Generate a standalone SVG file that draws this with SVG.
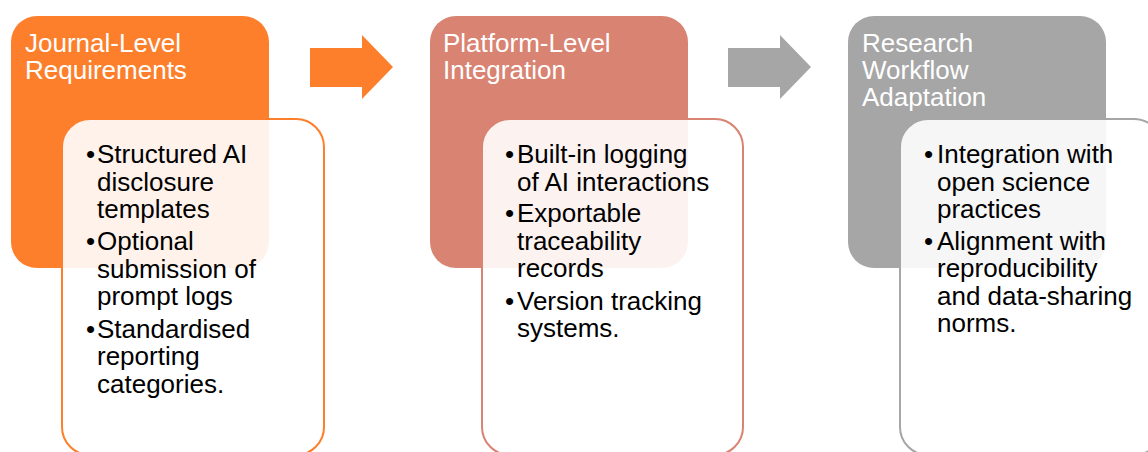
<svg xmlns="http://www.w3.org/2000/svg" width="1148" height="452" viewBox="0 0 1148 452">
<style>
.title{font-family:"Liberation Sans",Arial,sans-serif;font-size:26px;fill:#ffffff}
.body{font-family:"Liberation Sans",Arial,sans-serif;font-size:26px;fill:#000000}
.card{fill:#ffffff;fill-opacity:0.9;stroke-width:2}
</style>
<rect width="1148" height="452" fill="#ffffff"/>
<g id="connectors">
<path d="M310,48 H362 V35 L393,67 L362,99 V87 H310 Z" fill="#FD7F2B"/>
<path d="M728,48 H780 V35 L811,67 L780,99 V87 H728 Z" fill="#A6A6A6"/>
</g>
<g id="journal">
<rect x="11" y="16" width="258" height="252" rx="26" fill="#FD7F2B"/>
<text class="title" x="25" y="52">Journal-Level<tspan x="25" dy="27">Requirements</tspan></text>
<rect class="card" x="62" y="119" width="262" height="336" rx="28" stroke="#FD7F2B"/>
<text class="body" x="86" y="163">•</text>
<text class="body" x="97" y="163">Structured AI<tspan x="97" dy="28">disclosure</tspan><tspan x="97" dy="27">templates</tspan></text>
<text class="body" x="86" y="250">•</text>
<text class="body" x="97" y="250">Optional<tspan x="97" dy="28">submission of</tspan><tspan x="97" dy="27">prompt logs</tspan></text>
<text class="body" x="86" y="338">•</text>
<text class="body" x="97" y="338">Standardised<tspan x="97" dy="27">reporting</tspan><tspan x="97" dy="28">categories.</tspan></text>
</g>
<g id="platform">
<rect x="430" y="16" width="258" height="252" rx="26" fill="#D98372"/>
<text class="title" x="443" y="52">Platform-Level<tspan x="443" dy="27">Integration</tspan></text>
<rect class="card" x="482" y="119" width="261" height="336" rx="28" stroke="#D98372"/>
<text class="body" x="505" y="163">•</text>
<text class="body" x="517" y="163">Built-in logging<tspan x="517" dy="28">of AI interactions</tspan></text>
<text class="body" x="505" y="222">•</text>
<text class="body" x="517" y="222">Exportable<tspan x="517" dy="28">traceability</tspan><tspan x="517" dy="27">records</tspan></text>
<text class="body" x="505" y="310">•</text>
<text class="body" x="517" y="310">Version tracking<tspan x="517" dy="27">systems.</tspan></text>
</g>
<g id="research">
<rect x="848" y="16" width="258" height="252" rx="26" fill="#A6A6A6"/>
<text class="title" x="862" y="52">Research<tspan x="862" dy="27">Workflow</tspan><tspan x="862" dy="27">Adaptation</tspan></text>
<rect class="card" x="900" y="119" width="262" height="336" rx="28" stroke="#A6A6A6"/>
<text class="body" x="924" y="163">•</text>
<text class="body" x="937" y="163">Integration with<tspan x="937" dy="28">open science</tspan><tspan x="937" dy="27">practices</tspan></text>
<text class="body" x="924" y="250">•</text>
<text class="body" x="937" y="250">Alignment with<tspan x="937" dy="27">reproducibility</tspan><tspan x="937" dy="28">and data-sharing</tspan><tspan x="937" dy="27">norms.</tspan></text>
</g>
</svg>
